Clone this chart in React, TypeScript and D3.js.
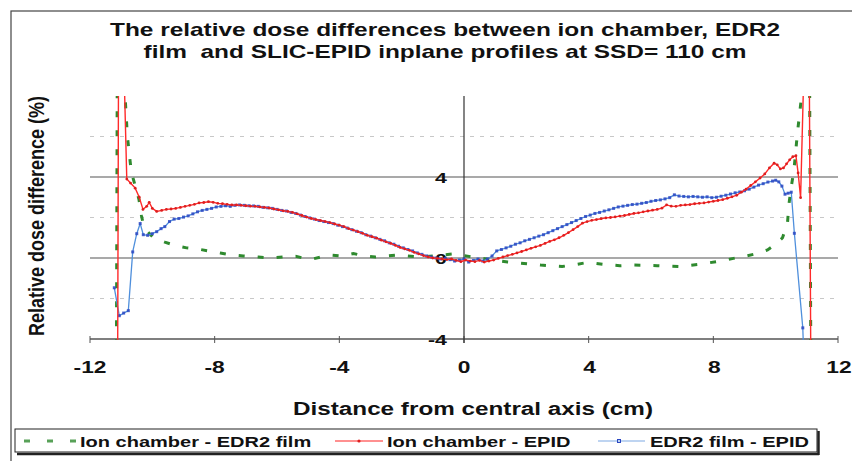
import React from "react";
import * as d3 from "d3";

// Relative dose difference (%) against distance from the central axis (cm)
const chamberFilm: [number, number][] = [
  [-11.16, -9], [-11.12, 12], [-10.95, 10], [-10.8, 6.0], [-10.7, 4.6], [-10.63, 4.0],
  [-10.5, 3.3], [-10.43, 2.9], [-10.35, 2.1], [-10.28, 1.6], [-10.18, 1.35], [-10.0, 1.06],
  [-9.8, 0.9], [-9.6, 0.78], [-9.27, 0.62], [-8.9, 0.5], [-8.57, 0.45], [-8.2, 0.35],
  [-7.82, 0.25], [-7.45, 0.15], [-7.08, 0.1], [-6.6, 0.05], [-6.2, 0.0], [-5.8, 0.05],
  [-5.4, 0.08], [-4.93, -0.08], [-4.6, 0.05], [-4.3, 0.15], [-3.9, 0.1], [-3.55, 0.22],
  [-3.2, 0.1], [-2.84, 0.05], [-2.5, 0.1], [-2.15, 0.15], [-1.8, 0.1], [-1.4, 0.05],
  [-1.0, 0.1], [-0.7, 0.15], [-0.34, 0.2], [0.0, 0.12], [0.4, 0.02], [0.95, -0.1],
  [1.4, -0.2], [1.8, -0.25], [2.46, -0.35], [3.15, -0.42], [3.6, -0.32], [3.96, -0.22],
  [4.5, -0.32], [5.0, -0.38], [5.45, -0.35], [6.2, -0.38], [6.9, -0.42], [7.6, -0.3],
  [8.34, -0.12], [8.7, 0.0], [9.05, 0.1], [9.4, 0.22], [9.74, 0.4], [10.0, 0.68],
  [10.22, 1.0], [10.38, 1.75], [10.43, 2.7], [10.49, 3.4], [10.59, 4.4], [10.7, 6.2],
  [10.81, 7.7], [10.9, 9.5], [11.08, 12], [11.14, -9],
];

const chamberEpid: [number, number][] = [
  [-11.12, -9], [-11.08, 12], [-10.92, 10], [-10.82, 3.9], [-10.7, 3.7], [-10.55, 3.45],
  [-10.42, 3.0], [-10.3, 2.4], [-10.18, 2.55], [-10.1, 2.75], [-10.0, 2.45], [-9.86, 2.3],
  [-9.7, 2.35], [-9.55, 2.4], [-9.4, 2.42], [-9.25, 2.45], [-9.1, 2.5], [-8.95, 2.55],
  [-8.8, 2.6], [-8.65, 2.65], [-8.5, 2.72], [-8.35, 2.74], [-8.2, 2.78], [-8.05, 2.75],
  [-7.9, 2.7], [-7.75, 2.68], [-7.6, 2.65], [-7.45, 2.62], [-7.3, 2.62], [-7.15, 2.6],
  [-7.0, 2.58], [-6.85, 2.56], [-6.7, 2.55], [-6.55, 2.52], [-6.4, 2.5], [-6.25, 2.47],
  [-6.1, 2.42], [-5.95, 2.38], [-5.8, 2.33], [-5.65, 2.3], [-5.5, 2.25], [-5.35, 2.18],
  [-5.2, 2.1], [-5.05, 2.02], [-4.9, 1.95], [-4.75, 1.9], [-4.6, 1.85], [-4.45, 1.8],
  [-4.3, 1.75], [-4.15, 1.68], [-4.0, 1.62], [-3.85, 1.55], [-3.7, 1.45], [-3.55, 1.38],
  [-3.4, 1.3], [-3.25, 1.22], [-3.1, 1.12], [-2.95, 1.05], [-2.8, 0.98], [-2.65, 0.88],
  [-2.5, 0.8], [-2.35, 0.72], [-2.2, 0.62], [-2.05, 0.52], [-1.9, 0.45], [-1.75, 0.38],
  [-1.6, 0.28], [-1.45, 0.2], [-1.3, 0.12], [-1.15, 0.05], [-1.0, 0.0], [-0.85, -0.02],
  [-0.7, -0.05], [-0.55, -0.08], [-0.4, -0.05], [-0.25, -0.12], [-0.1, -0.18], [0.05, -0.1],
  [0.2, -0.15], [0.35, -0.18], [0.5, -0.12], [0.65, -0.2], [0.8, -0.15], [0.95, -0.1],
  [1.1, -0.02], [1.25, 0.05], [1.4, 0.12], [1.55, 0.18], [1.7, 0.25], [1.85, 0.32],
  [2.0, 0.4], [2.15, 0.48], [2.3, 0.55], [2.45, 0.62], [2.6, 0.72], [2.75, 0.82],
  [2.9, 0.9], [3.05, 1.0], [3.2, 1.12], [3.35, 1.25], [3.5, 1.4], [3.65, 1.55],
  [3.8, 1.72], [3.95, 1.8], [4.1, 1.86], [4.25, 1.9], [4.4, 1.94], [4.55, 1.98],
  [4.7, 2.0], [4.85, 2.03], [5.0, 2.07], [5.15, 2.1], [5.3, 2.15], [5.45, 2.2],
  [5.6, 2.23], [5.75, 2.28], [5.9, 2.32], [6.05, 2.36], [6.2, 2.4], [6.35, 2.46],
  [6.5, 2.62], [6.65, 2.56], [6.8, 2.55], [6.95, 2.6], [7.1, 2.62], [7.25, 2.64],
  [7.4, 2.68], [7.55, 2.7], [7.7, 2.72], [7.85, 2.76], [8.0, 2.8], [8.15, 2.84],
  [8.3, 2.88], [8.45, 2.95], [8.6, 3.02], [8.75, 3.1], [8.9, 3.25], [9.05, 3.4],
  [9.2, 3.58], [9.35, 3.76], [9.5, 3.95], [9.65, 4.15], [9.8, 4.45], [9.95, 4.68],
  [10.05, 4.6], [10.15, 4.4], [10.25, 4.45], [10.35, 4.65], [10.45, 4.85], [10.55, 5.0],
  [10.65, 5.05], [10.72, 4.2], [10.8, 2.98], [10.9, 9], [11.07, 12], [11.14, -9],
];

const filmEpid: [number, number][] = [
  [-11.22, -1.47], [-11.06, -2.85], [-10.92, -2.72], [-10.77, -2.6], [-10.63, 0.3], [-10.5, 1.2],
  [-10.39, 1.7], [-10.29, 1.15], [-10.15, 1.12], [-10.0, 1.2], [-9.86, 1.3], [-9.72, 1.45],
  [-9.6, 1.55], [-9.45, 1.8], [-9.3, 1.92], [-9.15, 1.95], [-9.0, 2.02], [-8.85, 2.08],
  [-8.7, 2.18], [-8.55, 2.28], [-8.4, 2.35], [-8.25, 2.4], [-8.1, 2.45], [-7.95, 2.52],
  [-7.8, 2.55], [-7.65, 2.58], [-7.5, 2.55], [-7.35, 2.6], [-7.2, 2.62], [-7.05, 2.6],
  [-6.9, 2.58], [-6.75, 2.57], [-6.6, 2.55], [-6.45, 2.5], [-6.3, 2.48], [-6.15, 2.45],
  [-6.0, 2.4], [-5.85, 2.35], [-5.7, 2.32], [-5.55, 2.25], [-5.4, 2.2], [-5.25, 2.12],
  [-5.1, 2.05], [-4.95, 1.98], [-4.8, 1.92], [-4.65, 1.85], [-4.5, 1.8], [-4.35, 1.75],
  [-4.2, 1.7], [-4.05, 1.62], [-3.9, 1.55], [-3.75, 1.48], [-3.6, 1.4], [-3.45, 1.32],
  [-3.3, 1.25], [-3.15, 1.15], [-3.0, 1.08], [-2.85, 1.0], [-2.7, 0.92], [-2.55, 0.85],
  [-2.4, 0.75], [-2.25, 0.68], [-2.1, 0.58], [-1.95, 0.5], [-1.8, 0.42], [-1.65, 0.35],
  [-1.5, 0.25], [-1.35, 0.18], [-1.2, 0.1], [-1.05, 0.05], [-0.9, 0.0], [-0.75, -0.05],
  [-0.6, -0.02], [-0.45, -0.08], [-0.3, -0.15], [-0.15, -0.1], [0.0, -0.05], [0.15, -0.2],
  [0.3, -0.12], [0.45, -0.05], [0.6, -0.15], [0.75, -0.05], [0.9, 0.1], [1.05, 0.35],
  [1.2, 0.42], [1.35, 0.5], [1.5, 0.58], [1.65, 0.68], [1.8, 0.75], [1.95, 0.85],
  [2.1, 0.92], [2.25, 1.0], [2.4, 1.08], [2.55, 1.15], [2.7, 1.25], [2.85, 1.35],
  [3.0, 1.45], [3.15, 1.55], [3.3, 1.65], [3.45, 1.75], [3.6, 1.85], [3.75, 1.95],
  [3.9, 2.05], [4.05, 2.12], [4.2, 2.2], [4.35, 2.25], [4.5, 2.32], [4.65, 2.38],
  [4.8, 2.45], [4.95, 2.52], [5.1, 2.56], [5.25, 2.6], [5.4, 2.64], [5.55, 2.66],
  [5.7, 2.7], [5.85, 2.74], [6.0, 2.8], [6.15, 2.84], [6.3, 2.87], [6.45, 2.92],
  [6.6, 2.98], [6.75, 3.12], [6.9, 3.06], [7.05, 3.04], [7.2, 3.02], [7.35, 3.04],
  [7.5, 3.02], [7.65, 3.0], [7.8, 3.02], [7.95, 2.98], [8.1, 3.0], [8.25, 3.05],
  [8.4, 3.1], [8.55, 3.16], [8.7, 3.22], [8.85, 3.26], [9.0, 3.32], [9.15, 3.4],
  [9.3, 3.5], [9.45, 3.6], [9.6, 3.67], [9.75, 3.75], [9.9, 3.8], [10.0, 3.84],
  [10.1, 3.76], [10.2, 3.55], [10.3, 3.15], [10.4, 3.2], [10.5, 3.25], [10.6, 1.22],
  [10.87, -3.45], [10.95, -7],
];

const xTicks = [-12, -8, -4, 0, 4, 8, 12];
const yLabelTicks = [-4, 0, 4];
const yMajorGrid = [0, 4];
const yMinorGrid = [-2, 2, 6];

const titleLines = [
  "The relative dose differences between ion chamber, EDR2",
  "film  and SLIC-EPID inplane profiles at SSD= 110 cm",
];
const xTitle = "Distance from central axis (cm)";
const yTitle = "Relative dose difference (%)";
const seriesNames = ["Ion chamber - EDR2 film", "Ion chamber - EPID", "EDR2 film - EPID"];

const W = 852;
const H = 461;
const SX = 1.38; // wide-set lettering
const FONT = "'Liberation Sans', Arial, sans-serif";

const GREEN = "#2f8a2f";
const RED = "#ff2a2a";
const RED_MARK = "#dd1f1f";
const BLUE = "#4f8fdc";
const BLUE_MARK = "#2b47c2";

type TProps = {
  x: number;
  y: number;
  size: number;
  anchor?: "start" | "middle" | "end";
  children: React.ReactNode;
};

function T({ x, y, size, anchor = "start", children }: TProps) {
  return (
    <text
      transform={`translate(${x},${y}) scale(${SX},1)`}
      textAnchor={anchor}
      fontSize={size}
      fontWeight="bold"
      fontFamily={FONT}
      fill="#111"
      style={{ whiteSpace: "pre" }}
    >
      {children}
    </text>
  );
}

export default function App() {
  const x = d3.scaleLinear().domain([-12, 12]).range([90, 838]);
  const y = d3.scaleLinear().domain([-4, 8]).range([339, 96]);

  const line = d3
    .line<[number, number]>()
    .x((d) => x(d[0]))
    .y((d) => y(d[1]));

  const inView = (d: [number, number]) => d[1] >= -4 && d[1] <= 8;

  return (
    <svg
      width={W}
      height={H}
      style={{ position: "absolute", left: 0, top: 0, display: "block", background: "#fff" }}
    >
      <defs>
        <clipPath id="plot">
          <rect x={x(-12)} y={y(8)} width={x(12) - x(-12)} height={y(-4) - y(8) + 1} />
        </clipPath>
      </defs>

      {/* outer frame */}
      <rect x={11} y={11} width={W} height={H} fill="none" stroke="#444" strokeWidth={1.2} />

      {/* title */}
      {titleLines.map((t, i) => (
        <T key={t} x={445} y={36 + i * 22} size={17.7} anchor="middle">
          {t}
        </T>
      ))}

      {/* gridlines */}
      {yMinorGrid.map((v) => (
        <line
          key={`mn${v}`}
          x1={x(-12)}
          x2={x(12)}
          y1={y(v)}
          y2={y(v)}
          stroke="#c8c8c8"
          strokeWidth={1}
          strokeDasharray="4,6"
        />
      ))}
      {yMajorGrid.map((v) => (
        <line key={`mj${v}`} x1={x(-12)} x2={x(12)} y1={y(v)} y2={y(v)} stroke="#555" strokeWidth={1.2} />
      ))}

      {/* x axis */}
      <line x1={x(-12)} x2={x(12)} y1={y(-4)} y2={y(-4)} stroke="#555" strokeWidth={1.3} />
      {xTicks.map((t) => (
        <line key={`xt${t}`} x1={x(t)} x2={x(t)} y1={y(-4) - 3} y2={y(-4) + 4} stroke="#555" strokeWidth={1} />
      ))}
      {xTicks.map((t) => (
        <T key={`xl${t}`} x={x(t) + (t > 0 ? 1 : 0)} y={372.5} size={16.5} anchor="middle">
          {t}
        </T>
      ))}

      {/* y axis through the central axis */}
      <line x1={x(0)} x2={x(0)} y1={y(8)} y2={y(-4) + 4} stroke="#333" strokeWidth={1.2} />
      {yLabelTicks.map((t) => (
        <T key={`yl${t}`} x={447} y={y(t) + 6} size={15.5} anchor="end">
          {t}
        </T>
      ))}

      {/* series */}
      <g clipPath="url(#plot)">
        <path
          d={line(chamberFilm) ?? ""}
          fill="none"
          stroke={GREEN}
          strokeWidth={3}
          strokeDasharray="6,13"
        />
        <path d={line(filmEpid) ?? ""} fill="none" stroke={BLUE} strokeWidth={1.3} />
        {filmEpid.filter(inView).map((d, i) => (
          <rect
            key={`b${i}`}
            x={x(d[0]) - 1.5}
            y={y(d[1]) - 1.5}
            width={3}
            height={3}
            fill={BLUE_MARK}
            opacity={0.85}
          />
        ))}
        <path d={line(chamberEpid) ?? ""} fill="none" stroke={RED} strokeWidth={1.4} />
        {chamberEpid.filter(inView).map((d, i) => (
          <circle key={`r${i}`} cx={x(d[0])} cy={y(d[1])} r={1.4} fill={RED_MARK} />
        ))}
      </g>

      {/* axis titles */}
      <T x={473} y={415} size={17.6} anchor="middle">
        {xTitle}
      </T>
      <text
        transform={`translate(44,216) rotate(-90) scale(1,1.25)`}
        textAnchor="middle"
        fontSize={18}
        fontWeight="bold"
        fontFamily={FONT}
        fill="#111"
      >
        {yTitle}
      </text>

      {/* legend */}
      <line x1={17} x2={819} y1={454} y2={454} stroke="#222" strokeWidth={2.5} />
      <line x1={818.5} x2={818.5} y1={431} y2={455} stroke="#222" strokeWidth={2.5} />
      <rect x={15} y={429} width={802} height={23} fill="#fff" stroke="#222" strokeWidth={1} />
      <line x1={24} x2={76} y1={441} y2={441} stroke={GREEN} strokeWidth={3} strokeDasharray="6,17" opacity={0.8} />
      <T x={80} y={446.5} size={14.5}>
        {seriesNames[0]}
      </T>
      <line x1={335} x2={383} y1={441} y2={441} stroke="#ff6b6b" strokeWidth={1.4} />
      <circle cx={359} cy={441} r={1.6} fill={RED_MARK} />
      <T x={387} y={446.5} size={14.5}>
        {seriesNames[1]}
      </T>
      <line x1={598} x2={645} y1={441} y2={441} stroke="#a9c6ec" strokeWidth={1.4} />
      <rect x={617.5} y={439.5} width={3} height={3} fill="none" stroke={BLUE_MARK} strokeWidth={1} />
      <T x={650} y={446.5} size={14.5}>
        {seriesNames[2]}
      </T>
    </svg>
  );
}
